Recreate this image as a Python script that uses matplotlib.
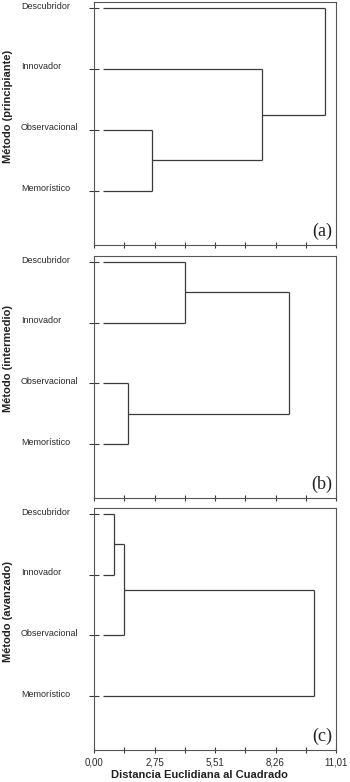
import matplotlib
matplotlib.use("Agg")
import matplotlib.pyplot as plt
import matplotlib.transforms as mtransforms
import numpy as np

categories = ["Descubridor", "Innovador", "Observacional", "Memorístico"]

# merges: (cluster_a, cluster_b, distance); new clusters get ids 4, 5, 6
merges_a = [(2, 3, 2.62), (1, 4, 7.64), (0, 5, 10.52)]
merges_b = [(2, 3, 1.56), (0, 1, 4.14), (4, 5, 8.86)]
merges_c = [(0, 1, 0.93), (4, 2, 1.38), (5, 3, 10.02)]

panel_letters = ["(a)", "(b)", "(c)"]
ylabels = ["Método (principiante)", "Método (intermedio)", "Método (avanzado)"]

x_max = 11.01
x_ticks = np.linspace(0, x_max, 9)
x_ticklabels = ["0,00", "", "2,75", "", "5,51", "", "8,26", "", "11,01"]
xlabel = "Distancia Euclidiana al Cuadrado"

W, H = 350, 782
fig = plt.figure(figsize=(W / 100, H / 100), dpi=100)

sans = ["Liberation Sans", "DejaVu Sans"]
serif = ["Liberation Serif", "DejaVu Serif"]
line_col = "#3a3a3a"
spine_col = "#555555"
text_col = "#2a2a2a"
leaf_start = 0.42

# axes boxes in pixels (left, top, right, bottom)
boxes = [(94, 2, 336, 245), (94, 256, 336, 498), (94, 508, 336, 750)]
ylabel_centers = [106, 358, 612]
all_merges = [merges_a, merges_b, merges_c]

for i, (box, merges) in enumerate(zip(boxes, all_merges)):
    l, t, r, b = box
    ax = fig.add_axes([l / W, 1 - b / H, (r - l) / W, (b - t) / H])
    n = len(categories)
    ypos = {k: float(k) for k in range(n)}
    xpos = {k: leaf_start for k in range(n)}
    nid = n
    for a, c, d in merges:
        ax.plot([xpos[a], d], [ypos[a], ypos[a]], color=line_col, lw=0.9, solid_capstyle="butt")
        ax.plot([xpos[c], d], [ypos[c], ypos[c]], color=line_col, lw=0.9, solid_capstyle="butt")
        ax.plot([d, d], [ypos[a], ypos[c]], color=line_col, lw=0.9, solid_capstyle="butt")
        ypos[nid] = (ypos[a] + ypos[c]) / 2
        xpos[nid] = d
        nid += 1
    ax.set_xlim(0, x_max)
    ax.set_ylim(3.89, -0.1)
    ax.set_xticks(x_ticks)
    if i == 2:
        ax.set_xticklabels(x_ticklabels, fontsize=7, family=sans, color=text_col)
    else:
        ax.set_xticklabels([])
    ax.set_yticks(range(n))
    ax.set_yticklabels([])
    ax.tick_params(axis="y", direction="inout", length=6.5, width=0.8, color=line_col)
    ax.tick_params(axis="x", direction="inout", length=5, width=0.8, color=line_col, pad=3)
    for s in ax.spines.values():
        s.set_color(spine_col)
        s.set_linewidth(0.8)
    trans = mtransforms.blended_transform_factory(fig.transFigure, ax.transData)
    trans = trans + mtransforms.ScaledTranslation(0, 2 / 100, fig.dpi_scale_trans)
    for k, cat in enumerate(categories):
        ax.text(21 / W, k, cat, transform=trans, ha="left", va="center",
                fontsize=6.5, family=sans, color=text_col)
    ax.text(0.985, 0.02, panel_letters[i], transform=ax.transAxes, ha="right", va="bottom",
            fontsize=13, family=serif, color="#222222")
    fig.text(8 / W, 1 - ylabel_centers[i] / H, ylabels[i], rotation=90, ha="center", va="center",
             fontsize=8, fontweight="bold", family=sans, color="#222222")

fig.text(199 / W, 1 - 775 / H, xlabel, ha="center", va="center",
         fontsize=8, fontweight="bold", family=sans, color="#222222")

fig.savefig("out.png", dpi=100)
